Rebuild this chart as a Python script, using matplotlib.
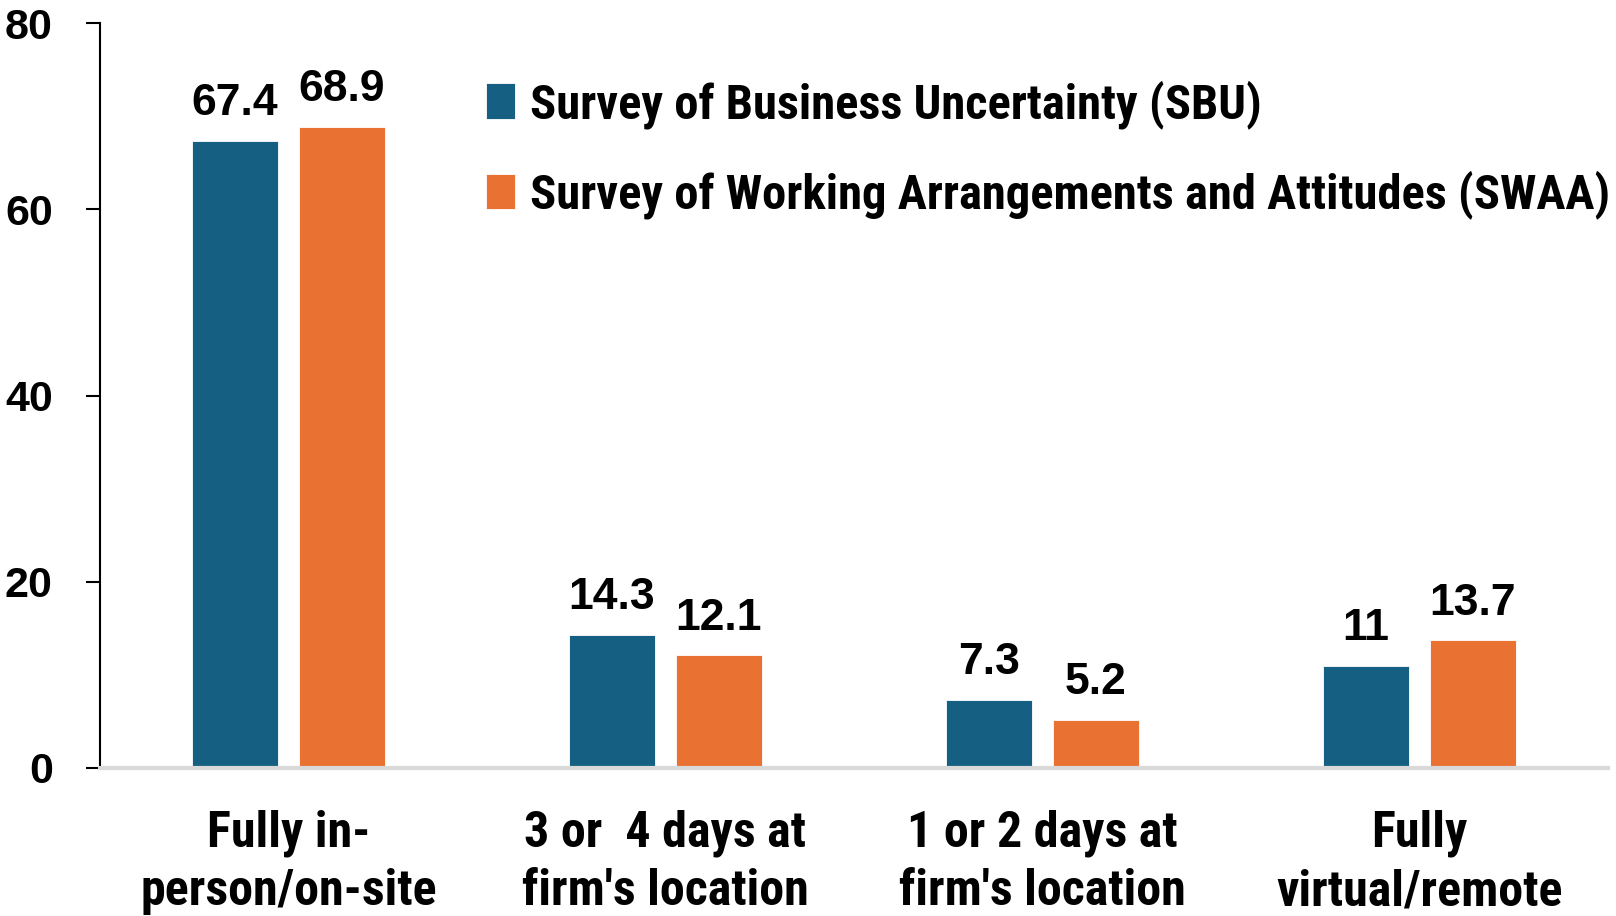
import matplotlib
matplotlib.use("Agg")
import matplotlib.pyplot as plt
import numpy as np
from matplotlib import font_manager

# data
categories = ["Fully in-\nperson/on-site", "3 or  4 days at\nfirm's location",
              "1 or 2 days at\nfirm's location", "Fully\nvirtual/remote"]
sbu = [67.4, 14.3, 7.3, 11]
swaa = [68.9, 12.1, 5.2, 13.7]
series_names = ["Survey of Business Uncertainty (SBU)",
                "Survey of Working Arrangements and Attitudes (SWAA)"]
yticks = [0, 20, 40, 60, 80]

names = {f.name for f in font_manager.fontManager.ttflist}
narrow = "Liberation Sans Narrow" if "Liberation Sans Narrow" in names else "Roboto Condensed"
if narrow not in names:
    narrow = "DejaVu Sans"
wide = "Liberation Sans"

blue = "#156082"
orange = "#E97132"

fig = plt.figure(figsize=(16.16, 9.16), dpi=100)
ax = fig.add_axes([0.0619, 0.1616, 0.933, 0.813])

x = np.arange(len(categories))
w = 0.227
off = 0.142
b1 = ax.bar(x - off, sbu, w, color=blue, edgecolor="white", linewidth=0.6, label=series_names[0])
b2 = ax.bar(x + off, swaa, w, color=orange, edgecolor="white", linewidth=0.6, label=series_names[1])

for bars, vals in ((b1, sbu), (b2, swaa)):
    for r, v in zip(bars, vals):
        ax.annotate(f"{v:g}", (r.get_x() + r.get_width() / 2, v),
                    xytext=(0, 12), textcoords="offset points",
                    ha="center", va="bottom", fontsize=32, fontweight="bold",
                    family=wide, color="black")

ax.set_xlim(-0.5, 3.5)
ax.set_ylim(0, 80)
ax.set_yticks(yticks)
ax.set_yticklabels([str(t) for t in yticks], fontsize=31, fontweight="bold", family=wide)
ax.set_xticks(x)
ax.set_xticklabels(categories, fontsize=36, fontweight="bold", family=narrow,
                   linespacing=1.3)
ax.tick_params(axis="x", length=0, pad=30)
ax.tick_params(axis="y", length=10, width=1.5, pad=24, color="black")

for s in ("top", "right"):
    ax.spines[s].set_visible(False)
ax.spines["left"].set_linewidth(1.5)
ax.spines["bottom"].set_color("#d9d9d9")
ax.spines["bottom"].set_linewidth(3)

leg = ax.legend(loc="upper left", bbox_to_anchor=(486 / 1616, 1 - 80 / 916),
                bbox_transform=fig.transFigure, frameon=False,
                prop={"family": narrow, "weight": "bold", "size": 35},
                handlelength=0.6, handleheight=0.75, handletextpad=0.3,
                labelspacing=0.85, borderaxespad=0, borderpad=0)

fig.savefig("out.png", dpi=100)
